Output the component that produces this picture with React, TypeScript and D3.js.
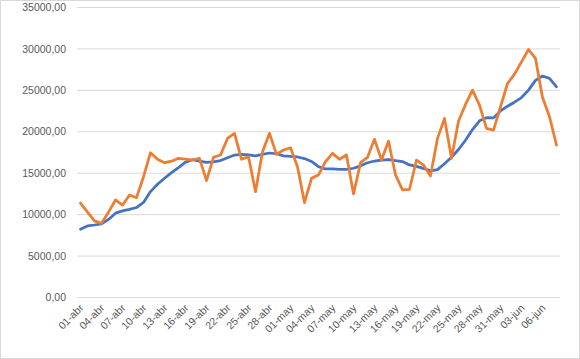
import * as d3 from "d3";

// daily categories, 01-abr .. 08-jun
const categories = [
  "01-abr", "02-abr", "03-abr", "04-abr", "05-abr", "06-abr", "07-abr", "08-abr", "09-abr", "10-abr",
  "11-abr", "12-abr", "13-abr", "14-abr", "15-abr", "16-abr", "17-abr", "18-abr", "19-abr", "20-abr",
  "21-abr", "22-abr", "23-abr", "24-abr", "25-abr", "26-abr", "27-abr", "28-abr", "29-abr", "30-abr",
  "01-may", "02-may", "03-may", "04-may", "05-may", "06-may", "07-may", "08-may", "09-may", "10-may",
  "11-may", "12-may", "13-may", "14-may", "15-may", "16-may", "17-may", "18-may", "19-may", "20-may",
  "21-may", "22-may", "23-may", "24-may", "25-may", "26-may", "27-may", "28-may", "29-may", "30-may",
  "31-may", "01-jun", "02-jun", "03-jun", "04-jun", "05-jun", "06-jun", "07-jun", "08-jun",
];

// smoothed series (blue)
const averageValues = [
  8240, 8640, 8750, 8875, 9420, 10180, 10460, 10630, 10860, 11480,
  12780, 13660, 14390, 15070, 15670, 16330, 16630, 16470, 16300, 16360,
  16530, 16870, 17190, 17280, 17200, 17100, 17280, 17440, 17350, 17090,
  17020, 16960, 16770, 16420, 15800, 15510, 15510, 15450, 15450, 15600,
  15890, 16260, 16470, 16580, 16640, 16510, 16410, 16000, 15820, 15580,
  15280, 15430, 16150, 16920, 17860, 18980, 20270, 21320, 21700, 21680,
  22510, 23090, 23570, 24130, 25030, 26200, 26730, 26450, 25430,
];

// daily series (orange)
const dailyValues = [
  11400, 10300, 9250, 8950, 10300, 11770, 11150, 12380, 12050, 14580,
  17470, 16680, 16270, 16450, 16800, 16710, 16590, 16800, 14100, 16920,
  17200, 19200, 19810, 16680, 16990, 12770, 17590, 19810, 17280, 17800,
  18080, 15790, 11450, 14390, 14790, 16390, 17400, 16680, 17200, 12500,
  16270, 16920, 19090, 16590, 18880, 14790, 12980, 13060, 16590, 15990,
  14670, 19210, 21620, 16800, 21300, 23300, 25030, 23220, 20410, 20210,
  23020, 25830, 26960, 28440, 29930, 28850, 24150, 21810, 18400,
];

const yTicks = [0, 5000, 10000, 15000, 20000, 25000, 30000, 35000];

const W = 580;
const H = 359;

const locale = d3.formatLocale({ decimal: ",", thousands: ".", grouping: [3], currency: ["", "€"] });
const fmt = locale.format(".2f");

export default function App() {
  const x = d3.scaleBand<string>().domain(categories).range([77, 560]).padding(0);
  const y = d3.scaleLinear().domain([0, 35000]).range([297.5, 7.5]);
  const cx = (i: number) => (x(categories[i]) as number) + x.bandwidth() / 2;

  const line = d3
    .line<number>()
    .x((_, i) => cx(i))
    .y((d) => y(d));

  const labelIdx = categories.map((_, i) => i).filter((i) => i % 3 === 0);

  return (
    <svg
      width={W}
      height={H}
      style={{ position: "absolute", left: 0, top: 0, background: "#fff" }}
      fontFamily="'Liberation Sans', Arial, sans-serif"
    >
      <rect x={0.5} y={0.5} width={W - 1} height={H - 1} fill="#fff" stroke="#d9d9d9" />
      {yTicks.map((t) => (
        <g key={t}>
          <line x1={77} x2={560} y1={y(t)} y2={y(t)} stroke="#d9d9d9" strokeWidth={1} />
          <text x={66} y={y(t)} dy="0.35em" textAnchor="end" fontSize={10.5} fill="#595959">
            {fmt(t)}
          </text>
        </g>
      ))}
      {labelIdx.map((i) => (
        <text
          key={i}
          transform={`translate(${cx(i) + 1},${306}) rotate(-45)`}
          textAnchor="end"
          dy="0.35em"
          fontSize={10.5}
          fill="#595959"
        >
          {categories[i]}
        </text>
      ))}
      <path d={line(averageValues) ?? ""} fill="none" stroke="#4472C4" strokeWidth={2.75} strokeLinejoin="round" strokeLinecap="round" />
      <path d={line(dailyValues) ?? ""} fill="none" stroke="#ED7D31" strokeWidth={2.75} strokeLinejoin="round" strokeLinecap="round" />
    </svg>
  );
}
